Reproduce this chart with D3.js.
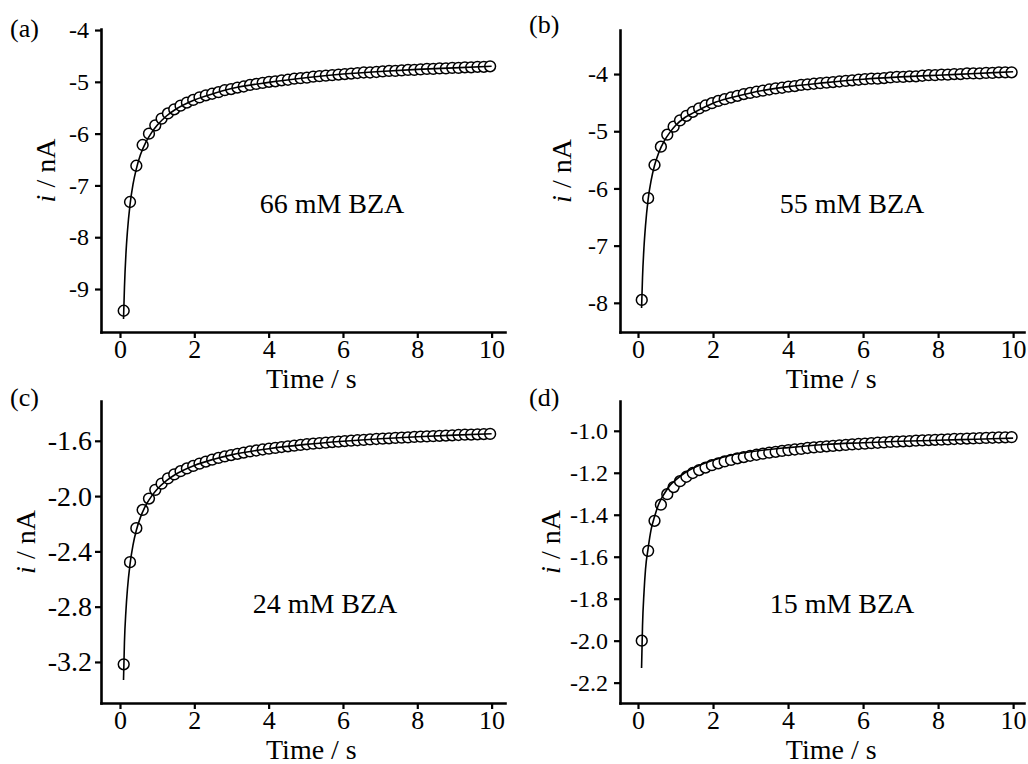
<!DOCTYPE html>
<html>
<head>
<meta charset="utf-8">
<script src="https://cdn.jsdelivr.net/npm/d3@7"></script>
<style>
  body { margin: 0; background: #fff; }
  svg { display: block; }
</style>
</head>
<body>
<script>
// Sampled chronoamperometry points (s)
const time = [0.1, 0.27, 0.44, 0.61, 0.78, 0.95, 1.12, 1.29, 1.46, 1.63,
  1.8, 1.97, 2.14, 2.31, 2.48, 2.65, 2.82, 2.99, 3.16, 3.33,
  3.5, 3.67, 3.84, 4.01, 4.18, 4.35, 4.52, 4.69, 4.86, 5.03,
  5.2, 5.37, 5.54, 5.71, 5.88, 6.05, 6.22, 6.39, 6.56, 6.73,
  6.9, 7.07, 7.24, 7.41, 7.58, 7.75, 7.92, 8.09, 8.26, 8.43,
  8.6, 8.77, 8.94, 9.11, 9.28, 9.45, 9.62, 9.79, 9.96];

// measured current (nA)
const current66 = [-9.42, -7.32, -6.62, -6.22, -6.00, -5.84, -5.71, -5.61, -5.53, -5.46,
  -5.40, -5.35, -5.30, -5.26, -5.23, -5.20, -5.16, -5.14, -5.11, -5.09,
  -5.06, -5.04, -5.02, -5.00, -4.99, -4.97, -4.96, -4.94, -4.93, -4.92,
  -4.90, -4.89, -4.88, -4.87, -4.86, -4.85, -4.84, -4.83, -4.82, -4.82,
  -4.81, -4.80, -4.79, -4.79, -4.78, -4.77, -4.77, -4.76, -4.75, -4.75,
  -4.74, -4.74, -4.73, -4.73, -4.72, -4.72, -4.71, -4.71, -4.70];
const current55 = [-7.95, -6.17, -5.59, -5.27, -5.06, -4.92, -4.81, -4.73, -4.66, -4.60,
  -4.55, -4.51, -4.47, -4.44, -4.41, -4.38, -4.35, -4.33, -4.31, -4.29,
  -4.27, -4.25, -4.24, -4.22, -4.21, -4.19, -4.18, -4.17, -4.16, -4.15,
  -4.14, -4.13, -4.12, -4.11, -4.10, -4.09, -4.08, -4.08, -4.07, -4.06,
  -4.05, -4.05, -4.04, -4.04, -4.03, -4.02, -4.02, -4.01, -4.01, -4.00,
  -4.00, -3.99, -3.99, -3.99, -3.98, -3.98, -3.97, -3.97, -3.97];
const current24 = [-3.217, -2.478, -2.232, -2.100, -2.018, -1.955, -1.910, -1.872, -1.843, -1.820,
  -1.800, -1.782, -1.765, -1.750, -1.736, -1.724, -1.713, -1.703, -1.694, -1.685,
  -1.677, -1.670, -1.663, -1.657, -1.651, -1.645, -1.640, -1.635, -1.630, -1.625,
  -1.621, -1.617, -1.613, -1.609, -1.606, -1.602, -1.599, -1.596, -1.593, -1.590,
  -1.587, -1.584, -1.582, -1.579, -1.577, -1.575, -1.572, -1.570, -1.568, -1.566,
  -1.564, -1.562, -1.560, -1.558, -1.556, -1.555, -1.553, -1.551, -1.550];
const current15 = [-2.000, -1.572, -1.429, -1.352, -1.302, -1.268, -1.240, -1.219, -1.201, -1.187,
  -1.175, -1.164, -1.155, -1.146, -1.139, -1.131, -1.125, -1.119, -1.114, -1.109,
  -1.104, -1.100, -1.096, -1.092, -1.089, -1.086, -1.082, -1.079, -1.077, -1.074,
  -1.072, -1.069, -1.067, -1.065, -1.063, -1.061, -1.059, -1.057, -1.055, -1.053,
  -1.052, -1.050, -1.049, -1.047, -1.046, -1.044, -1.043, -1.042, -1.041, -1.039,
  -1.038, -1.037, -1.036, -1.035, -1.034, -1.033, -1.032, -1.031, -1.030];

// fitted curves
const fitTime = [0.095, 0.12, 0.16, 0.2, 0.27, 0.35, 0.44, 0.55, 0.7, 0.85, 1, 1.25,
  1.5, 2, 2.5, 3, 4, 5, 6, 7, 8, 9, 10];
const fit66 = [-9.58, -8.97, -8.32, -7.89, -7.37, -6.98, -6.68, -6.41, -6.16, -5.98, -5.84, -5.66,
  -5.53, -5.35, -5.23, -5.13, -5.01, -4.92, -4.85, -4.80, -4.76, -4.73, -4.70];
const fit55 = [-8.09, -7.56, -7.02, -6.65, -6.19, -5.86, -5.60, -5.38, -5.17, -5.02, -4.90, -4.76,
  -4.67, -4.51, -4.41, -4.33, -4.22, -4.15, -4.09, -4.05, -4.02, -3.99, -3.96];
const fit24 = [-3.33, -3.055, -2.829, -2.674, -2.492, -2.354, -2.247, -2.154, -2.064, -2.000, -1.950, -1.888,
  -1.842, -1.778, -1.735, -1.702, -1.657, -1.626, -1.603, -1.585, -1.571, -1.559, -1.549];
const fit15 = [-2.13, -1.93, -1.77, -1.66, -1.56, -1.47, -1.41, -1.35, -1.30, -1.26, -1.235, -1.20,
  -1.175, -1.14, -1.115, -1.10, -1.08, -1.065, -1.057, -1.050, -1.045, -1.040, -1.035];

const xTicks = [0, 2, 4, 6, 8, 10];
const yTicks66 = [-9, -8, -7, -6, -5, -4];
const yTicks55 = [-8, -7, -6, -5, -4];
const yTicks24 = [-3.2, -2.8, -2.4, -2.0, -1.6];
const yTicks15 = [-2.2, -2.0, -1.8, -1.6, -1.4, -1.2, -1.0];

const panelLabels = ['(a)', '(b)', '(c)', '(d)'];
const concLabels = ['66 mM BZA', '55 mM BZA', '24 mM BZA', '15 mM BZA'];

const W = 1028, H = 764;
const FONT = '"Liberation Serif", "Times New Roman", serif';

const fmtInt = d => String(d);
const fmt1 = d => d.toFixed(1);

const panels = [
  { values: current66, fit: fit66, yTicks: yTicks66, fmt: fmtInt, yFont: 24, yPad: 6,
    xDomain: [-0.511, 10.36], xRange: [101, 505], yDomain: [-9.83, -3.98], yRange: [332, 29],
    label: [10, 37], conc: [332, 213], ytitle: 55, xtitle: 388 },
  { values: current55, fit: fit55, yTicks: yTicks55, fmt: fmtInt, yFont: 24, yPad: 6,
    xDomain: [-0.48, 10.29], xRange: [620, 1024], yDomain: [-8.51, -3.23], yRange: [332, 30],
    label: [529, 33], conc: [852, 213], ytitle: 571, xtitle: 388 },
  { values: current24, fit: fit24, yTicks: yTicks24, fmt: fmt1, yFont: 28, yPad: 3,
    xDomain: [-0.511, 10.36], xRange: [101, 505], yDomain: [-3.497, -1.312], yRange: [703, 401],
    label: [10, 406], conc: [325, 613], ytitle: 35, xtitle: 759 },
  { values: current15, fit: fit15, yTicks: yTicks15, fmt: fmt1, yFont: 24, yPad: 6,
    xDomain: [-0.48, 10.29], xRange: [620, 1024], yDomain: [-2.297, -0.858], yRange: [703, 401],
    label: [529, 406], conc: [842, 613], ytitle: 560, xtitle: 759 }
];

const svg = d3.select('body').append('svg')
  .attr('width', W)
  .attr('height', H);

panels.forEach((p, idx) => {
  const x = d3.scaleLinear().domain(p.xDomain).range(p.xRange);
  const y = d3.scaleLinear().domain(p.yDomain).range(p.yRange);
  const g = svg.append('g');

  // x axis
  const gx = g.append('g')
    .attr('transform', `translate(0,${p.yRange[0]})`)
    .call(d3.axisBottom(x).tickValues(xTicks).tickSize(6).tickSizeOuter(0).tickPadding(2).tickFormat(fmtInt));
  gx.attr('font-size', 26);

  // y axis
  const gy = g.append('g')
    .attr('transform', `translate(${p.xRange[0]},0)`)
    .call(d3.axisLeft(y).tickValues(p.yTicks).tickSize(6).tickSizeOuter(0).tickPadding(p.yPad).tickFormat(p.fmt));
  gy.attr('font-size', p.yFont);

  [gx, gy].forEach(ax => {
    ax.attr('font-family', FONT);
    ax.select('.domain').attr('stroke', '#000').attr('stroke-width', 2.6).attr('stroke-linecap', 'square');
    ax.selectAll('.tick line').attr('stroke', '#000').attr('stroke-width', 2.2);
    ax.selectAll('.tick text').attr('fill', '#000');
  });

  // markers (white filled open circles)
  g.append('g')
    .selectAll('circle')
    .data(time.map((t, i) => [t, p.values[i]]))
    .enter()
    .append('circle')
      .attr('cx', d => x(d[0]))
      .attr('cy', d => y(d[1]))
      .attr('r', 5.4)
      .attr('fill', '#fff')
      .attr('stroke', '#000')
      .attr('stroke-width', 1.5);

  // fitted line on top
  const line = d3.line()
    .x(d => x(d[0]))
    .y(d => y(d[1]))
    .curve(d3.curveMonotoneX);

  g.append('path')
    .datum(fitTime.map((t, i) => [t, p.fit[i]]))
    .attr('fill', 'none')
    .attr('stroke', '#000')
    .attr('stroke-width', 1.6)
    .attr('d', line);

  // axis titles
  g.append('text')
    .attr('x', x(5.15))
    .attr('y', p.xtitle)
    .attr('text-anchor', 'middle')
    .attr('font-family', FONT)
    .attr('font-size', 28)
    .text('Time / s');

  const yt = g.append('text')
    .attr('transform', `translate(${p.ytitle},${(p.yRange[0] + p.yRange[1]) / 2 - 10}) rotate(-90)`)
    .attr('text-anchor', 'middle')
    .attr('font-family', FONT)
    .attr('font-size', 28);
  yt.append('tspan').attr('font-style', 'italic').text('i');
  yt.append('tspan').text(' / nA');

  // panel letter
  g.append('text')
    .attr('x', p.label[0])
    .attr('y', p.label[1])
    .attr('font-family', FONT)
    .attr('font-size', 26)
    .text(panelLabels[idx]);

  // concentration annotation
  g.append('text')
    .attr('x', p.conc[0])
    .attr('y', p.conc[1])
    .attr('text-anchor', 'middle')
    .attr('font-family', FONT)
    .attr('font-size', 28)
    .text(concLabels[idx]);
});
</script>
</body>
</html>
